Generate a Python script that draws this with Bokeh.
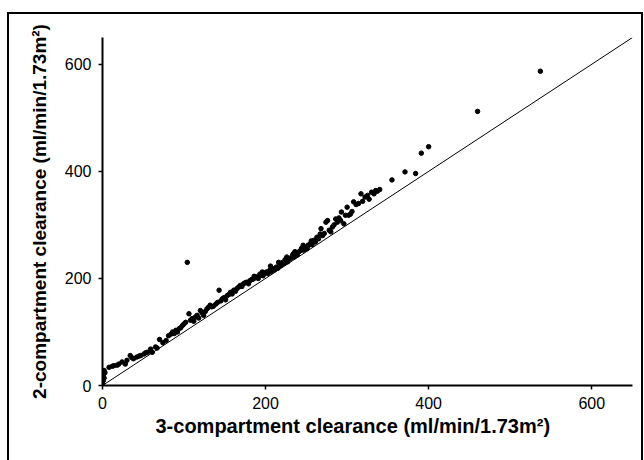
from bokeh.plotting import figure
from bokeh.models import Range1d, Slope, Title, FixedTicker
from bokeh.embed import file_html
from bokeh.resources import INLINE

# 3-compartment clearance (x) vs 2-compartment clearance (y), ml/min/1.73m2
three_comp = [0, 1, 2, 1, 3, 2,
              8, 12, 14, 18, 20, 24, 28, 30, 34, 36, 38, 42, 45, 47, 51, 53, 55, 59, 61, 65, 67, 70,
              74, 78, 81, 84, 86, 88, 90, 92, 94, 96, 98, 100, 102, 104, 106, 108, 110, 112, 114,
              116, 118, 120, 122, 124, 126, 128, 130, 132, 134, 136, 139, 141, 143, 145, 147, 149,
              151, 153, 155, 157, 159, 161, 163, 165, 167, 169, 171, 173, 175, 177, 179, 181, 183,
              185, 187, 189, 191, 193, 195, 197, 199, 201, 203, 205, 207, 209, 211, 213, 215, 217,
              219, 221, 223, 225, 227, 229, 231, 233, 235, 237, 239, 241, 243, 245, 247, 249, 251,
              253, 255, 257, 259, 261, 263, 265, 267, 268, 270, 272, 274, 276, 278, 280, 282, 284,
              286, 288, 290, 292, 293, 296, 298, 300, 302, 304, 306, 308, 311, 314, 317, 319, 322,
              325, 327, 330, 333, 335, 337, 340,
              186, 196, 206, 216, 226, 236, 246, 256, 224, 234, 244, 252,
              355, 371, 384, 391, 400, 460, 537]
two_comp = [4, 9, 14, 19, 24, 28,
            34, 36, 37, 38, 40, 44, 40, 47, 56, 52, 50, 53, 55, 56, 59, 61, 62, 68, 62, 72, 70, 86,
            80, 84, 93, 96, 100, 97, 103, 100, 106, 108, 112, 115, 118, 230, 134, 122, 125, 120, 128,
            131, 126, 140, 136, 131, 138, 143, 146, 150, 147, 148, 152, 155, 178, 158, 162, 164,
            160, 168, 170, 174, 171, 178, 176, 181, 184, 187, 185, 190, 192, 193, 190, 196, 198,
            199, 201, 203, 200, 208, 206, 205, 210, 212, 209, 215, 213, 218, 216, 221, 219, 226,
            224, 230, 228, 234, 231, 236, 238, 243, 240, 246, 244, 250, 252, 255, 253, 258, 256,
            262, 265, 263, 271, 268, 277, 274, 283, 293, 280, 284, 305, 308, 290, 287, 296, 300,
            311, 305, 313, 308, 324, 302, 318, 333, 318, 320, 325, 343, 338, 340, 358, 344, 352,
            355, 348, 361, 358, 364, 363, 366,
            204, 212, 223, 230, 240, 250, 262, 270, 235, 246, 256, 262,
            384, 399, 396, 434, 446, 512, 587]

tick_values = [0, 200, 400, 600]
x_title = "3-compartment clearance (ml/min/1.73m\u00b2)"
y_title = "2-compartment clearance (ml/min/1.73m\u00b2)"

FONT = "Liberation Sans"

p = figure(width=632, height=446, output_backend="svg", toolbar_location=None,
           x_range=Range1d(0, 650), y_range=Range1d(0, 650),
           min_border_left=93, min_border_right=9, min_border_top=23, min_border_bottom=75,
           margin=(14, 0, 0, 9),
           styles={"outline": "2px solid black"})
p.outline_line_color = None
p.xgrid.visible = False
p.ygrid.visible = False
p.background_fill_color = "white"
p.border_fill_color = "white"

for ax in (p.xaxis[0], p.yaxis[0]):
    ax.ticker = FixedTicker(ticks=tick_values)
    ax.axis_line_width = 2
    ax.axis_line_color = "black"
    ax.major_tick_line_color = "black"
    ax.major_tick_line_width = 1.5
    ax.major_tick_out = 4
    ax.major_tick_in = 0
    ax.minor_tick_line_color = None
    ax.major_label_text_font = FONT
    ax.major_label_text_font_size = "16px"
    ax.major_label_text_color = "black"

p.xaxis[0].major_label_standoff = 7
p.yaxis[0].major_label_standoff = 7
p.yaxis[0].axis_label = y_title
p.yaxis[0].axis_label_text_font = FONT
p.yaxis[0].axis_label_text_font_style = "bold"
p.yaxis[0].axis_label_text_font_size = "19px"
p.yaxis[0].axis_label_text_color = "black"
p.yaxis[0].axis_label_standoff = 12

p.add_layout(Slope(gradient=1, y_intercept=0, line_color="black", line_width=1))

p.scatter(three_comp, two_comp, size=4.5, color="black", line_color="black")

p.add_layout(Title(text=x_title, align="left", offset=53, standoff=2,
                   text_font=FONT, text_font_style="bold", text_font_size="20px",
                   text_color="black"), "below")

open("out.html", "w").write(file_html(p, INLINE))
